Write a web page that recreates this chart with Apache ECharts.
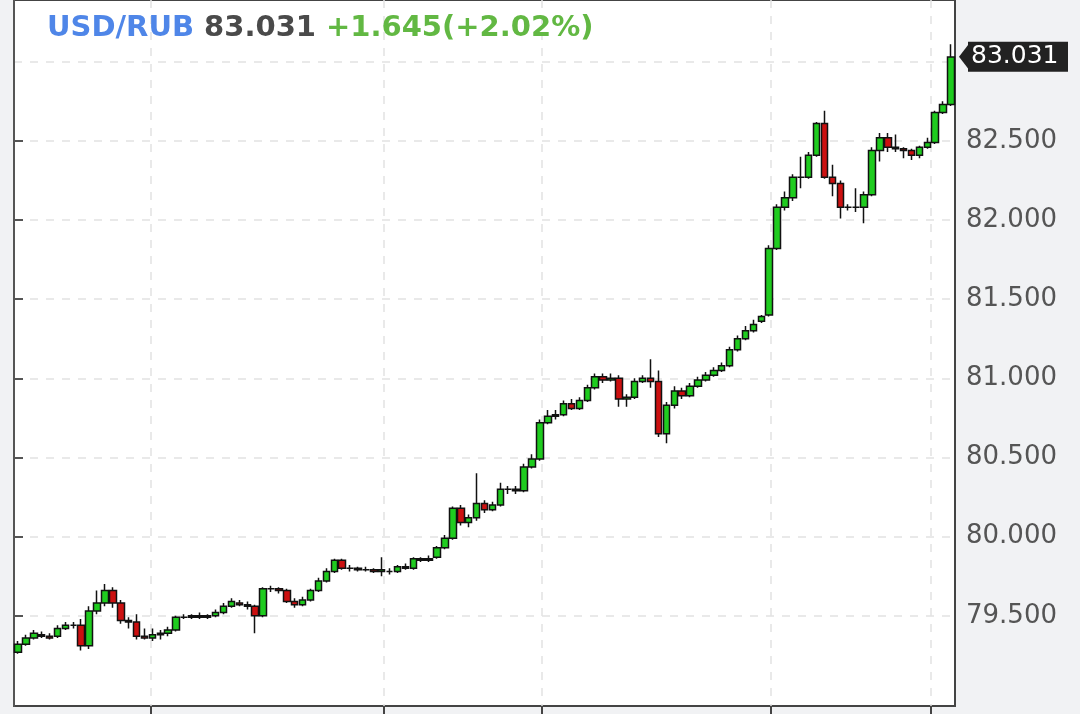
<!DOCTYPE html>
<html>
<head>
<meta charset="utf-8">
<script src="https://cdn.jsdelivr.net/npm/echarts@6/dist/echarts.min.js"></script>
<style>
    html, body { margin: 0; padding: 0; background: #f1f2f4; }
    #chart { width: 1080px; height: 714px; }
</style>
</head>
<body>
<div id="chart"></div>
<script>
// [open, close, low, high]
const candles = [
    [79.27, 79.32, 79.26, 79.34], [79.32, 79.36, 79.31, 79.38], [79.36, 79.39, 79.35, 79.41],
    [79.38, 79.37, 79.36, 79.40], [79.37, 79.36, 79.35, 79.39], [79.37, 79.42, 79.36, 79.44],
    [79.42, 79.44, 79.41, 79.46], [79.44, 79.44, 79.42, 79.46], [79.44, 79.31, 79.28, 79.48],
    [79.31, 79.53, 79.29, 79.56], [79.53, 79.58, 79.51, 79.66], [79.58, 79.66, 79.56, 79.70],
    [79.66, 79.58, 79.55, 79.68], [79.58, 79.47, 79.45, 79.60], [79.47, 79.46, 79.42, 79.49],
    [79.46, 79.37, 79.35, 79.51], [79.37, 79.36, 79.35, 79.42], [79.36, 79.38, 79.34, 79.42],
    [79.38, 79.39, 79.35, 79.41], [79.39, 79.41, 79.37, 79.43], [79.41, 79.49, 79.40, 79.50],
    [79.49, 79.49, 79.48, 79.51], [79.49, 79.50, 79.48, 79.51], [79.49, 79.50, 79.48, 79.52],
    [79.50, 79.49, 79.48, 79.51], [79.50, 79.52, 79.49, 79.54], [79.52, 79.56, 79.51, 79.58],
    [79.56, 79.59, 79.55, 79.61], [79.58, 79.57, 79.56, 79.60], [79.57, 79.56, 79.54, 79.59],
    [79.56, 79.50, 79.39, 79.57], [79.50, 79.67, 79.49, 79.68], [79.67, 79.67, 79.65, 79.69],
    [79.67, 79.66, 79.64, 79.68], [79.66, 79.59, 79.58, 79.67], [79.59, 79.57, 79.55, 79.61],
    [79.57, 79.60, 79.56, 79.62], [79.60, 79.66, 79.59, 79.67], [79.66, 79.72, 79.65, 79.74],
    [79.72, 79.78, 79.71, 79.80], [79.78, 79.85, 79.77, 79.86], [79.85, 79.80, 79.79, 79.86],
    [79.80, 79.80, 79.78, 79.82], [79.80, 79.79, 79.78, 79.81], [79.79, 79.79, 79.78, 79.81],
    [79.79, 79.78, 79.77, 79.80], [79.78, 79.79, 79.75, 79.87], [79.78, 79.78, 79.76, 79.80],
    [79.78, 79.81, 79.77, 79.82], [79.81, 79.80, 79.79, 79.83], [79.80, 79.86, 79.79, 79.87],
    [79.86, 79.85, 79.84, 79.87], [79.85, 79.86, 79.84, 79.88], [79.87, 79.93, 79.86, 79.94],
    [79.93, 79.99, 79.92, 80.01], [79.99, 80.18, 79.98, 80.19], [80.18, 80.09, 80.07, 80.20],
    [80.09, 80.12, 80.06, 80.14], [80.12, 80.21, 80.10, 80.40], [80.21, 80.17, 80.15, 80.23],
    [80.17, 80.20, 80.16, 80.22], [80.20, 80.30, 80.19, 80.34], [80.30, 80.30, 80.27, 80.32],
    [80.30, 80.29, 80.27, 80.32], [80.29, 80.44, 80.28, 80.46], [80.44, 80.49, 80.43, 80.52],
    [80.49, 80.72, 80.48, 80.74], [80.72, 80.76, 80.71, 80.80], [80.76, 80.77, 80.74, 80.80],
    [80.77, 80.84, 80.76, 80.86], [80.84, 80.81, 80.80, 80.87], [80.81, 80.86, 80.80, 80.88],
    [80.86, 80.94, 80.85, 80.96], [80.94, 81.01, 80.93, 81.03], [81.01, 80.99, 80.97, 81.03],
    [80.99, 81.00, 80.98, 81.03], [81.00, 80.87, 80.82, 81.02], [80.87, 80.88, 80.82, 80.90],
    [80.88, 80.98, 80.87, 81.00], [80.98, 81.00, 80.97, 81.02], [81.00, 80.98, 80.94, 81.12],
    [80.98, 80.65, 80.63, 81.05], [80.65, 80.83, 80.59, 80.85], [80.83, 80.92, 80.81, 80.95],
    [80.92, 80.89, 80.87, 80.94], [80.89, 80.95, 80.88, 80.97], [80.95, 80.99, 80.94, 81.01],
    [80.99, 81.02, 80.98, 81.04], [81.02, 81.05, 81.01, 81.07], [81.05, 81.08, 81.04, 81.10],
    [81.08, 81.18, 81.07, 81.20], [81.18, 81.25, 81.17, 81.27], [81.25, 81.30, 81.24, 81.33],
    [81.30, 81.34, 81.29, 81.37], [81.36, 81.39, 81.35, 81.40], [81.40, 81.82, 81.39, 81.84],
    [81.82, 82.08, 81.81, 82.10], [82.08, 82.14, 82.06, 82.18], [82.14, 82.27, 82.12, 82.29],
    [82.27, 82.27, 82.20, 82.40], [82.27, 82.41, 82.26, 82.43], [82.41, 82.61, 82.40, 82.62],
    [82.61, 82.27, 82.26, 82.69], [82.27, 82.23, 82.15, 82.35], [82.23, 82.08, 82.01, 82.25],
    [82.08, 82.08, 82.06, 82.10], [82.08, 82.08, 82.05, 82.20], [82.08, 82.16, 81.98, 82.18],
    [82.16, 82.44, 82.15, 82.46], [82.44, 82.52, 82.37, 82.55], [82.52, 82.46, 82.43, 82.55],
    [82.46, 82.45, 82.43, 82.54], [82.45, 82.44, 82.39, 82.46], [82.44, 82.41, 82.38, 82.45],
    [82.41, 82.46, 82.39, 82.47], [82.46, 82.49, 82.45, 82.52], [82.49, 82.68, 82.48, 82.69],
    [82.68, 82.73, 82.67, 82.75], [82.73, 83.03, 82.72, 83.11]
];
const categories = candles.map((_, i) => i);
const gridTicks = [79.5, 80.0, 80.5, 81.0, 81.5, 82.0, 82.5, 83.0];
const labelTicks = [79.5, 80.0, 80.5, 81.0, 81.5, 82.0, 82.5];
const timeTicks = [17.35, 46.7, 66.7, 95.7, 115.9];
const lastPrice = 83.031;
const titleParts = ["USD/RUB", "83.031", "+1.645(+2.02%)"];

const chart = echarts.init(document.getElementById("chart"));

chart.setOption({
    backgroundColor: "#f1f2f4",
    animation: false,
    title: {
        left: 42,
        top: 9,
        text: `{a|${titleParts[0]}}  {b|${titleParts[1]}}  {c|${titleParts[2]}}`,
        textStyle: {
            rich: {
                a: { color: "#4f86e8", fontSize: 29, fontWeight: "bold", fontFamily: "DejaVu Sans" },
                b: { color: "#4a4a4a", fontSize: 29, fontWeight: "bold", fontFamily: "DejaVu Sans" },
                c: { color: "#62b843", fontSize: 29, fontWeight: "bold", fontFamily: "DejaVu Sans" },
            },
        },
    },
    grid: {
        left: 14,
        right: 125,
        top: 0,
        bottom: 8,
        show: true,
        backgroundColor: "#ffffff",
        borderColor: "#444",
        borderWidth: 2,
    },
    xAxis: [
        {
            type: "category",
            data: categories,
            boundaryGap: true,
            axisLine: { show: false },
            axisTick: { show: false },
            axisLabel: { show: false },
            splitLine: { show: false },
        },
        {
            type: "value",
            min: 0,
            max: candles.length,
            position: "bottom",
            axisLine: { show: false },
            axisTick: { show: true, length: 8, customValues: timeTicks, lineStyle: { color: "#444", width: 2 } },
            axisLabel: { show: false, customValues: timeTicks },
            splitLine: { show: true, lineStyle: { color: "#e2e2e2", type: [8, 8], width: 1.5 } },
        },
    ],
    yAxis: {
        type: "value",
        position: "right",
        min: 78.93,
        max: 83.39,
        axisLine: { show: true, lineStyle: { color: "#555", width: 2 } },
        axisTick: { show: true, length: 9, customValues: labelTicks, lineStyle: { color: "#555", width: 2 } },
        axisLabel: {
            customValues: labelTicks,
            formatter: (v) => v.toFixed(3),
            color: "#555",
            fontSize: 26,
            fontFamily: "DejaVu Sans",
            margin: 11,
        },
        splitLine: { show: false },
    },
    series: [
        {
            type: "candlestick",
            data: candles,
            barWidth: 7,
            itemStyle: {
                color: "#1fcc1f",
                color0: "#cc1010",
                borderColor: "#111",
                borderColor0: "#111",
                borderWidth: 1.5,
            },
            markLine: {
                silent: true,
                symbol: "none",
                label: { show: false },
                lineStyle: { color: "#e2e2e2", type: [8, 8], width: 1.5 },
                data: gridTicks.map((v) => ({ yAxis: v })),
                z: 0,
            },
        },
    ],
});

// last price tag on the price axis
const tagY = chart.convertToPixel({ yAxisIndex: 0 }, lastPrice);
const axisX = 1080 - 125;
chart.setOption({
    graphic: [
        {
            type: "polygon",
            shape: { points: [[axisX + 4, tagY], [axisX + 14, tagY - 13], [axisX + 14, tagY + 13]] },
            style: { fill: "#222" },
        },
        {
            type: "rect",
            shape: { x: axisX + 13, y: tagY - 15, width: 100, height: 30 },
            style: { fill: "#222" },
        },
        {
            type: "text",
            x: axisX + 16,
            y: tagY,
            style: {
                text: lastPrice.toFixed(3),
                fill: "#ffffff",
                font: "25px 'DejaVu Sans'",
                verticalAlign: "middle",
            },
        },
    ],
});
</script>
</body>
</html>
